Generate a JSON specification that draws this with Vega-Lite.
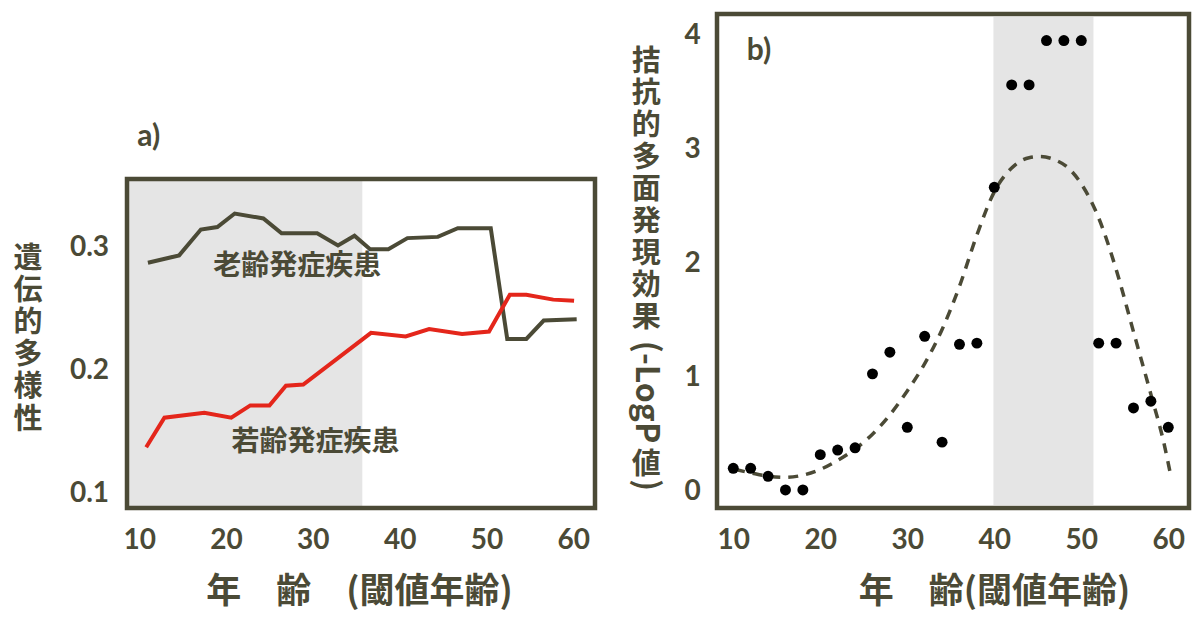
{
  "$schema": "https://vega.github.io/schema/vega-lite/v6.json",
  "padding": {"left": 12, "top": 11, "right": 5, "bottom": 5},
  "background": "white",
  "spacing": 30,
  "hconcat": [
    {
      "width": 468,
      "height": 494,
      "view": {"stroke": null},
      "layer": [
        {
          "data": {"values": [{"age": 8.59, "age2": 35.7, "value": 0.0886, "value2": 0.3561}]},
          "mark": {"type": "rect", "fill": "#e5e5e5"},
          "encoding": {
            "x": {
              "field": "age", "type": "quantitative",
              "scale": {"domain": [8.59, 62.51], "nice": false, "zero": false},
              "axis": {
                "values": [10, 20, 30, 40, 50, 60], "labelFlush": false,
                "labelBaseline": "alphabetic", "labelPadding": 40,
                "title": "年　齢　(閾値年齢)", "titleFontSize": 35,
                "titleBaseline": "alphabetic", "titleAlign": "center", "titleX": 232, "titleY": 94
              }
            },
            "x2": {"field": "age2"},
            "y": {
              "field": "value", "type": "quantitative",
              "scale": {"domain": [0.0886, 0.4902], "nice": false, "zero": false},
              "axis": {
                "values": [0.1, 0.2, 0.3], "format": ".1f",
                "labelAlign": "center", "labelBaseline": "middle", "labelPadding": 38,
                "title": ["遺", "伝", "的", "多", "様", "性"], "titleAngle": 0,
                "titleAlign": "center", "titleBaseline": "middle",
                "titleX": -99.5, "titleY": 244, "titleFontSize": 29, "titleLineHeight": 32.2
              }
            },
            "y2": {"field": "value2"}
          }
        },
        {
          "data": {"values": [
            {"group": "老齢発症疾患", "age": 11.0, "value": 0.288},
            {"group": "老齢発症疾患", "age": 14.6, "value": 0.294},
            {"group": "老齢発症疾患", "age": 17.1, "value": 0.315},
            {"group": "老齢発症疾患", "age": 19.0, "value": 0.317},
            {"group": "老齢発症疾患", "age": 21.0, "value": 0.328},
            {"group": "老齢発症疾患", "age": 24.3, "value": 0.324},
            {"group": "老齢発症疾患", "age": 26.4, "value": 0.312},
            {"group": "老齢発症疾患", "age": 30.5, "value": 0.312},
            {"group": "老齢発症疾患", "age": 32.9, "value": 0.302},
            {"group": "老齢発症疾患", "age": 34.8, "value": 0.310},
            {"group": "老齢発症疾患", "age": 36.6, "value": 0.299},
            {"group": "老齢発症疾患", "age": 38.7, "value": 0.299},
            {"group": "老齢発症疾患", "age": 40.9, "value": 0.308},
            {"group": "老齢発症疾患", "age": 44.4, "value": 0.309},
            {"group": "老齢発症疾患", "age": 46.7, "value": 0.316},
            {"group": "老齢発症疾患", "age": 50.5, "value": 0.316},
            {"group": "老齢発症疾患", "age": 52.4, "value": 0.226},
            {"group": "老齢発症疾患", "age": 54.6, "value": 0.226},
            {"group": "老齢発症疾患", "age": 56.6, "value": 0.241},
            {"group": "老齢発症疾患", "age": 60.4, "value": 0.242},
            {"group": "若齢発症疾患", "age": 10.8, "value": 0.138},
            {"group": "若齢発症疾患", "age": 12.9, "value": 0.162},
            {"group": "若齢発症疾患", "age": 17.5, "value": 0.166},
            {"group": "若齢発症疾患", "age": 20.6, "value": 0.162},
            {"group": "若齢発症疾患", "age": 22.8, "value": 0.172},
            {"group": "若齢発症疾患", "age": 25.0, "value": 0.172},
            {"group": "若齢発症疾患", "age": 26.9, "value": 0.188},
            {"group": "若齢発症疾患", "age": 28.9, "value": 0.189},
            {"group": "若齢発症疾患", "age": 36.7, "value": 0.231},
            {"group": "若齢発症疾患", "age": 40.7, "value": 0.228},
            {"group": "若齢発症疾患", "age": 43.4, "value": 0.234},
            {"group": "若齢発症疾患", "age": 47.2, "value": 0.230},
            {"group": "若齢発症疾患", "age": 50.3, "value": 0.232},
            {"group": "若齢発症疾患", "age": 52.7, "value": 0.262},
            {"group": "若齢発症疾患", "age": 54.6, "value": 0.262},
            {"group": "若齢発症疾患", "age": 57.7, "value": 0.258},
            {"group": "若齢発症疾患", "age": 60.1, "value": 0.257}
          ]},
          "mark": {"type": "line", "strokeWidth": 4, "strokeJoin": "miter"},
          "encoding": {
            "x": {"field": "age", "type": "quantitative"},
            "y": {"field": "value", "type": "quantitative"},
            "color": {
              "field": "group", "type": "nominal", "legend": null,
              "scale": {"domain": ["老齢発症疾患", "若齢発症疾患"], "range": ["#4b4a36", "#e4261b"]}
            }
          }
        },
        {
          "data": {"values": [
            {"label": "老齢発症疾患", "age": 28.2, "value": 0.2846},
            {"label": "若齢発症疾患", "age": 30.3, "value": 0.1417}
          ]},
          "mark": {"type": "text", "font": "Noto Sans CJK JP", "fontWeight": "bold", "fontSize": 28, "color": "#4b4a36"},
          "encoding": {
            "x": {"field": "age", "type": "quantitative"},
            "y": {"field": "value", "type": "quantitative"},
            "text": {"field": "label"}
          }
        },
        {
          "data": {"values": [{"label": "a)", "age": 11.1, "value": 0.39}]},
          "mark": {"type": "text", "font": "Lato", "fontWeight": "bold", "fontSize": 30, "color": "#4b4a36"},
          "encoding": {
            "x": {"field": "age", "type": "quantitative"},
            "y": {"field": "value", "type": "quantitative"},
            "text": {"field": "label"}
          }
        },
        {
          "data": {"values": [{"age": 8.59, "age2": 62.51, "value": 0.0886, "value2": 0.3561}]},
          "mark": {"type": "rect", "fillOpacity": 0, "stroke": "#4b4a36", "strokeWidth": 4.5},
          "encoding": {
            "x": {"field": "age", "type": "quantitative"},
            "x2": {"field": "age2"},
            "y": {"field": "value", "type": "quantitative"},
            "y2": {"field": "value2"}
          }
        }
      ]
    },
    {
      "width": 472,
      "height": 494,
      "view": {"stroke": "#4b4a36", "strokeWidth": 4.5},
      "layer": [
        {
          "data": {"values": [{"age": 39.9, "age2": 51.4, "value": -0.123, "value2": 4.167}]},
          "mark": {"type": "rect", "fill": "#e5e5e5"},
          "encoding": {
            "x": {
              "field": "age", "type": "quantitative",
              "scale": {"domain": [8.13, 62.38], "nice": false, "zero": false},
              "axis": {
                "values": [10, 20, 30, 40, 50, 60], "labelFlush": false,
                "labelBaseline": "alphabetic", "labelPadding": 40,
                "title": "年　齢(閾値年齢)", "titleFontSize": 35,
                "titleBaseline": "alphabetic", "titleAlign": "center", "titleX": 277, "titleY": 94
              }
            },
            "x2": {"field": "age2"},
            "y": {
              "field": "value", "type": "quantitative",
              "scale": {"domain": [-0.149, 4.193], "nice": false, "zero": false},
              "axis": {
                "values": [0, 1, 2, 3, 4], "format": "d",
                "labelAlign": "center", "labelBaseline": "middle", "labelPadding": 25,
                "title": null
              }
            },
            "y2": {"field": "value2"}
          }
        },
        {
          "data": {"values": [
            {"age": 10.2, "value": 0.19}, {"age": 12, "value": 0.16}, {"age": 14, "value": 0.13},
            {"age": 16, "value": 0.12}, {"age": 18, "value": 0.14}, {"age": 20, "value": 0.19},
            {"age": 22, "value": 0.27}, {"age": 24, "value": 0.37}, {"age": 26, "value": 0.5},
            {"age": 28, "value": 0.67}, {"age": 30, "value": 0.88}, {"age": 32, "value": 1.12},
            {"age": 34, "value": 1.42}, {"age": 36, "value": 1.8}, {"age": 38, "value": 2.25},
            {"age": 40, "value": 2.63}, {"age": 42, "value": 2.84}, {"age": 44, "value": 2.93},
            {"age": 45.3, "value": 2.94}, {"age": 47, "value": 2.91}, {"age": 48.5, "value": 2.84},
            {"age": 50, "value": 2.7}, {"age": 52, "value": 2.4}, {"age": 54, "value": 1.95},
            {"age": 56, "value": 1.4}, {"age": 58, "value": 0.85}, {"age": 59.5, "value": 0.42},
            {"age": 60.3, "value": 0.13}
          ]},
          "mark": {"type": "line", "color": "#4b4a36", "strokeWidth": 3.5, "strokeDash": [10, 8], "interpolate": "monotone"},
          "encoding": {
            "x": {"field": "age", "type": "quantitative"},
            "y": {"field": "value", "type": "quantitative"}
          }
        },
        {
          "data": {"values": [
            {"age": 10, "value": 0.2}, {"age": 12, "value": 0.2}, {"age": 14, "value": 0.13},
            {"age": 16, "value": 0.01}, {"age": 18, "value": 0.01}, {"age": 20, "value": 0.32},
            {"age": 22, "value": 0.36}, {"age": 24, "value": 0.38}, {"age": 26, "value": 1.03},
            {"age": 28, "value": 1.22}, {"age": 30, "value": 0.56}, {"age": 32, "value": 1.36},
            {"age": 34, "value": 0.43}, {"age": 36, "value": 1.29}, {"age": 38, "value": 1.3},
            {"age": 40, "value": 2.67}, {"age": 42, "value": 3.57}, {"age": 44, "value": 3.57},
            {"age": 46, "value": 3.96}, {"age": 48, "value": 3.96}, {"age": 50, "value": 3.96},
            {"age": 52, "value": 1.3}, {"age": 54, "value": 1.3}, {"age": 56, "value": 0.73},
            {"age": 58, "value": 0.79}, {"age": 60, "value": 0.56}
          ]},
          "mark": {"type": "circle", "color": "black", "opacity": 1, "size": 120},
          "encoding": {
            "x": {"field": "age", "type": "quantitative"},
            "y": {"field": "value", "type": "quantitative"}
          }
        },
        {
          "data": {"values": [{"label": "b)", "age": 12.95, "value": 3.87}]},
          "mark": {"type": "text", "font": "Lato", "fontWeight": "bold", "fontSize": 30, "color": "#4b4a36"},
          "encoding": {
            "x": {"field": "age", "type": "quantitative"},
            "y": {"field": "value", "type": "quantitative"},
            "text": {"field": "label"}
          }
        },
        {
          "data": {"values": [
            {"label": "拮\n抗\n的\n多\n面\n発\n現\n効\n果", "age": 0, "value": 3.77},
            {"label": "値", "age": 0, "value": 0.229}
          ]},
          "mark": {"type": "text", "font": "Noto Sans CJK JP", "fontWeight": "bold", "fontSize": 29, "lineHeight": 32, "lineBreak": "\n", "color": "#4b4a36"},
          "encoding": {
            "x": {"field": "age", "type": "quantitative"},
            "y": {"field": "value", "type": "quantitative"},
            "text": {"field": "label"}
          }
        },
        {
          "data": {"values": [
            {"label": "(-LogP", "age": 0, "value": 0.87},
            {"label": ")", "age": 0, "value": 0.053}
          ]},
          "mark": {"type": "text", "font": "Noto Sans CJK JP", "fontWeight": "bold", "fontSize": 32, "angle": 90, "color": "#4b4a36"},
          "encoding": {
            "x": {"field": "age", "type": "quantitative"},
            "y": {"field": "value", "type": "quantitative"},
            "text": {"field": "label"}
          }
        }
      ]
    }
  ],
  "config": {
    "font": "Noto Sans CJK JP",
    "axis": {
      "grid": false, "domain": false, "ticks": false, "tickSize": 0,
      "labelFont": "Lato", "labelFontSize": 28, "labelFontWeight": "bold", "labelColor": "#4b4a36",
      "titleFont": "Noto Sans CJK JP", "titleFontWeight": "bold", "titleColor": "#4b4a36"
    }
  }
}
